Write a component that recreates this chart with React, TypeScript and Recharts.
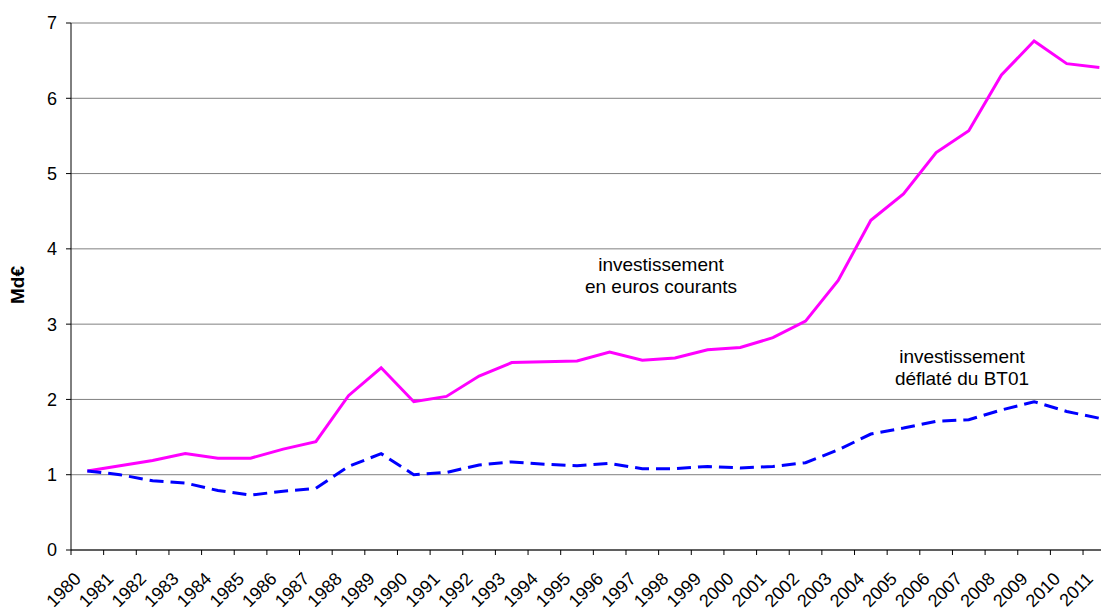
import React from 'react';
import { LineChart, Line, XAxis, YAxis, CartesianGrid } from 'recharts';

const years = [
  1980, 1981, 1982, 1983, 1984, 1985, 1986, 1987, 1988, 1989, 1990, 1991, 1992, 1993, 1994, 1995,
  1996, 1997, 1998, 1999, 2000, 2001, 2002, 2003, 2004, 2005, 2006, 2007, 2008, 2009, 2010, 2011,
];

// investissement en euros courants (Md€)
const courants = [
  1.05, 1.12, 1.19, 1.28, 1.22, 1.22, 1.34, 1.44, 2.05, 2.42, 1.97, 2.04, 2.31, 2.49, 2.5, 2.51,
  2.63, 2.52, 2.55, 2.66, 2.69, 2.82, 3.04, 3.58, 4.38, 4.73, 5.28, 5.57, 6.31, 6.76, 6.46, 6.41,
];

// investissement déflaté du BT01 (Md€)
const deflate = [
  1.05, 1.0, 0.92, 0.89, 0.79, 0.73, 0.78, 0.82, 1.11, 1.28, 1.0, 1.03, 1.13, 1.17, 1.14, 1.12,
  1.15, 1.08, 1.08, 1.11, 1.09, 1.11, 1.16, 1.33, 1.54, 1.62, 1.71, 1.73, 1.86, 1.97, 1.84, 1.75,
];

const yTicks = [0, 1, 2, 3, 4, 5, 6, 7];

const data = years.map((year, i) => ({ i, year, courants: courants[i], deflate: deflate[i] }));
// tick marks sit on the boundaries between years
const xTicks = years.map((_, i) => i - 0.5);

const FONT = '"Liberation Sans", Arial, sans-serif';

const YearTick = (props: any) => {
  const { x, y, payload } = props;
  const label = years[Math.round(payload.value + 0.5)];
  const tx = x + 11;
  const ty = y + 23;
  return (
    <text
      x={tx}
      y={ty}
      transform={`rotate(-45 ${tx} ${ty})`}
      textAnchor="end"
      fontSize={18}
      fontFamily={FONT}
      fill="#000"
    >
      {label}
    </text>
  );
};

// value labels: right edge ~14px left of the axis line
const ValueTick = (props: any) => {
  const { y, payload } = props;
  return (
    <text x={57} y={y} dy="0.36em" textAnchor="end" fontSize={18} fontFamily={FONT} fill="#000">
      {payload.value}
    </text>
  );
};

const noteStyle: React.CSSProperties = {
  position: 'absolute',
  fontFamily: FONT,
  fontSize: 19,
  lineHeight: '22px',
  textAlign: 'center',
  color: '#000',
  transform: 'translateX(-50%)',
  whiteSpace: 'nowrap',
};

export default function App() {
  return (
    <div
      style={{
        position: 'fixed',
        left: 0,
        top: 0,
        width: 1101,
        height: 610,
        overflow: 'hidden',
        background: '#fff',
      }}
    >
      <LineChart
        width={1101}
        height={610}
        data={data}
        margin={{ top: 23, right: 0, bottom: 0, left: 0 }}
      >
        <CartesianGrid vertical={false} stroke="#808080" strokeWidth={1} />
        <XAxis
          dataKey="i"
          type="number"
          domain={[-0.5, 31.05]}
          allowDataOverflow
          ticks={xTicks}
          interval={0}
          height={60}
          tick={<YearTick />}
          tickSize={5}
          axisLine={{ stroke: '#000' }}
          tickLine={{ stroke: '#000' }}
          allowDecimals
        />
        <YAxis
          domain={[0, 7]}
          ticks={yTicks}
          width={71}
          tickSize={5}
          axisLine={{ stroke: '#000' }}
          tickLine={{ stroke: '#000' }}
          tick={<ValueTick />}
        />
        <Line
          type="linear"
          dataKey="courants"
          stroke="#FF00FF"
          strokeWidth={3}
          dot={false}
          isAnimationActive={false}
        />
        <Line
          type="linear"
          dataKey="deflate"
          stroke="#0000FF"
          strokeWidth={3}
          strokeDasharray="14 7"
          dot={false}
          isAnimationActive={false}
        />
      </LineChart>
      <div
        style={{
          position: 'absolute',
          left: 18,
          top: 285,
          transform: 'translate(-50%, -50%) rotate(-90deg)',
          fontFamily: FONT,
          fontSize: 19,
          fontWeight: 'bold',
          whiteSpace: 'nowrap',
        }}
      >
        Md€
      </div>
      <div style={{ ...noteStyle, left: 661, top: 254 }}>
        investissement
        <br />
        en euros courants
      </div>
      <div style={{ ...noteStyle, left: 962, top: 346 }}>
        investissement
        <br />
        déflaté du BT01
      </div>
    </div>
  );
}
